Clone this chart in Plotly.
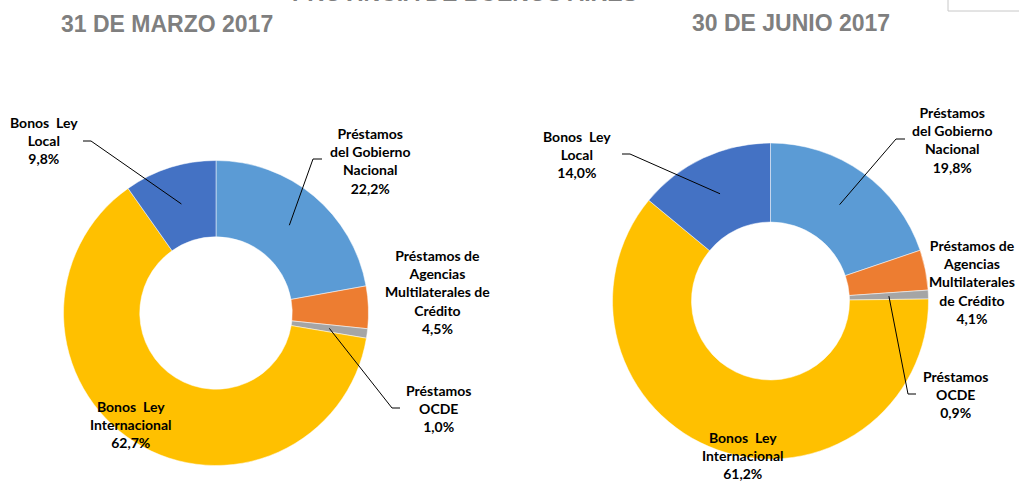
import math
import plotly.graph_objects as go

W, H = 1019, 481

# ---- data ----
categories = [
    "Préstamos del Gobierno Nacional",
    "Préstamos de Agencias Multilaterales de Crédito",
    "Préstamos OCDE",
    "Bonos Ley Internacional",
    "Bonos Ley Local",
]
colors = ["#5B9BD5", "#ED7D31", "#A5A5A5", "#FFC000", "#4472C4"]
values_mar = [22.2, 4.5, 1.0, 62.7, 9.8]
values_jun = [19.8, 4.1, 0.9, 61.2, 14.0]
title_mar = "31 DE MARZO 2017"
title_jun = "30 DE JUNIO 2017"
main_title = "PROVINCIA DE BUENOS AIRES"

labels_mar = [
    "Préstamos<br>del Gobierno<br>Nacional<br>22,2%",
    "Préstamos de<br>Agencias<br>Multilaterales de<br>Crédito<br>4,5%",
    "Préstamos<br>OCDE<br>1,0%",
    "Bonos  Ley<br>Internacional<br>62,7%",
    "Bonos  Ley<br>Local<br>9,8%",
]
labels_jun = [
    "Préstamos<br>del Gobierno<br>Nacional<br>19,8%",
    "Préstamos de<br>Agencias<br>Multilaterales<br>de Crédito<br>4,1%",
    "Préstamos<br>OCDE<br>0,9%",
    "Bonos  Ley<br>Internacional<br>61,2%",
    "Bonos  Ley<br>Local<br>14,0%",
]

# ---- layout geometry (pixels) ----
HOLE = 0.5
charts = [
    dict(values=values_mar, labels=labels_mar, cx=216.0, cy=313.0, R=152.5,
         label_pos=[(370, 161), (437, 292), (438, 408), (131, 424), (44, 141)],
         # leader lines: (slice index, elbow point, stub end)
         leaders=[(0, (313, 159), (322, 159)), (2, (392, 408), (400, 408)), (4, (91, 141), (83, 141))]),
    dict(values=values_jun, labels=labels_jun, cx=770.5, cy=301.0, R=158.0,
         label_pos=[(952, 140), (972, 282), (955, 394), (743, 455), (577, 154)],
         leaders=[(0, (896, 139), (905, 139)), (2, (908, 394), (916, 394)), (4, (630, 154), (622, 154))]),
]


def px(x):
    return x / W


def py(y):
    return 1 - y / H


fig = go.Figure()
annotations = []
shapes = []

for ch in charts:
    cx, cy, R = ch["cx"], ch["cy"], ch["R"]
    fig.add_trace(go.Pie(
        values=ch["values"],
        labels=categories,
        marker=dict(colors=colors, line=dict(color="white", width=0.5)),
        hole=HOLE,
        sort=False,
        direction="clockwise",
        rotation=0,
        textinfo="none",
        hoverinfo="label+percent",
        showlegend=False,
        domain=dict(x=[px(cx - R), px(cx + R)], y=[py(cy + R), py(cy - R)]),
    ))
    total = sum(ch["values"])
    for txt, (lx, ly) in zip(ch["labels"], ch["label_pos"]):
        annotations.append(dict(
            x=px(lx), y=py(ly), xref="paper", yref="paper",
            text="<b>" + txt + "</b>", showarrow=False,
            xanchor="center", yanchor="middle", align="center",
            font=dict(family="Lato", size=14, color="#000000"),
        ))
    # leader lines from mid-ring of slice
    for idx, elbow, stub in ch["leaders"]:
        before = sum(ch["values"][:idx])
        mid = (before + ch["values"][idx] / 2) / total * 2 * math.pi
        rm = R * (1 + HOLE) / 2
        sx = cx + rm * math.sin(mid)
        sy = cy - rm * math.cos(mid)
        path = f"M {px(sx)},{py(sy)} L {px(elbow[0])},{py(elbow[1])} L {px(stub[0])},{py(stub[1])}"
        shapes.append(dict(type="path", path=path, xref="paper", yref="paper",
                           line=dict(color="#000000", width=1)))

# titles
title_font = dict(family="Liberation Sans", size=23, color="#7F7F7F")
annotations.append(dict(x=px(167), y=py(24), xref="paper", yref="paper", text="<b>" + title_mar + "</b>",
                        showarrow=False, xanchor="center", yanchor="middle", font=title_font))
annotations.append(dict(x=px(791), y=py(23), xref="paper", yref="paper", text="<b>" + title_jun + "</b>",
                        showarrow=False, xanchor="center", yanchor="middle", font=title_font))
annotations.append(dict(x=px(465), y=py(-6.5), xref="paper", yref="paper", text="<b>" + main_title + "</b>",
                        showarrow=False, xanchor="center", yanchor="middle", font=title_font))

# small box at top-right
shapes.append(dict(type="rect", xref="paper", yref="paper", x0=px(948), x1=px(1025), y0=py(11), y1=py(-5),
                   line=dict(color="#C8C8C8", width=1), fillcolor="white"))

fig.update_layout(
    width=W, height=H,
    margin=dict(l=0, r=0, t=0, b=0),
    paper_bgcolor="white", plot_bgcolor="white",
    annotations=annotations, shapes=shapes,
)

fig.write_html("out.html", config={"displayModeBar": False},
               post_script="document.body.style.margin='0';document.body.style.overflow='hidden';")
